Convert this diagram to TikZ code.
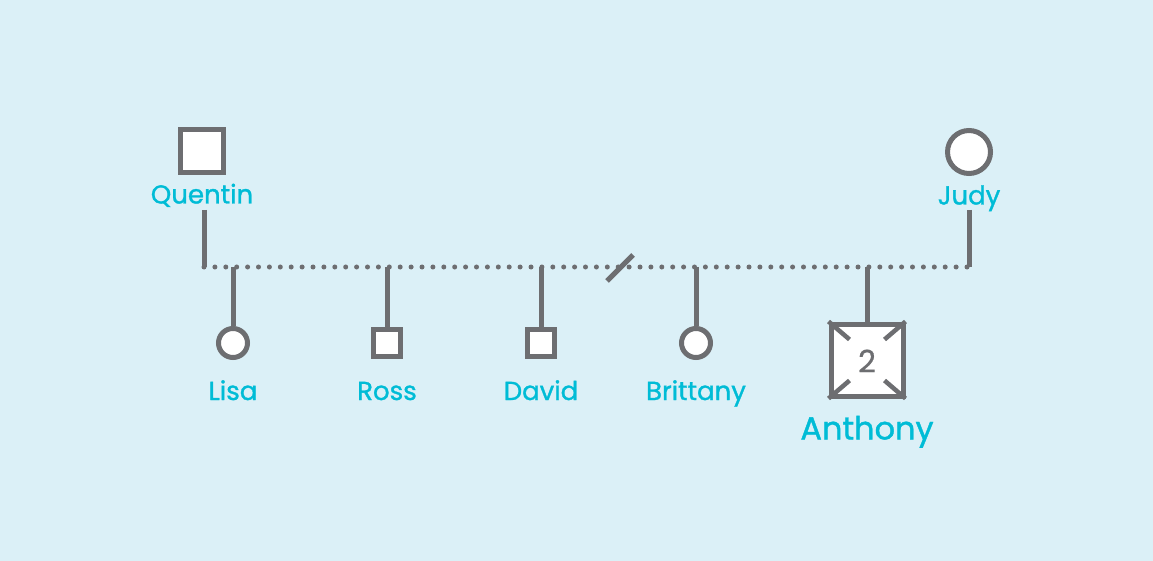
\documentclass[tikz,border=0pt]{standalone}
\usepackage{fontspec}
\setmainfont{Poppins}[FakeBold=0.5]
\newfontfamily\lblfont{Poppins}[FakeBold=1.2]
\definecolor{bg}{RGB}{219,240,247}
\definecolor{gr}{RGB}{109,110,113}
\definecolor{bl}{RGB}{0,188,214}
\begin{document}
\begin{tikzpicture}[x=1pt,y=-1pt,
  line/.style={draw=gr,line width=5pt},
  dotline/.style={draw=gr,line width=5pt,line cap=round,dash pattern=on 0pt off 10.9pt},
  male/.style={draw=gr,fill=white,line width=5pt,minimum size=#1,inner sep=0pt,rectangle},
  female/.style={draw=gr,fill=white,line width=5pt,minimum size=#1,inner sep=0pt,circle},
  lbl/.style={text=bl,font=\lblfont\fontsize{26}{28}\selectfont,inner sep=0pt,anchor=base},
  biglbl/.style={text=bl,font=\lblfont\fontsize{32}{34}\selectfont,inner sep=0pt,anchor=base}]
\fill[bg] (0,0) rectangle (1153,561);
\useasboundingbox (0,0) rectangle (1153,561);
% parents
\node[male=43pt] (q) at (202,151) {};
\node[lbl] (ql) at (202,203.5) {Quentin};
\node[female=43pt] (j) at (969,152) {};
\node[lbl] (jl) at (969,204.5) {Judy};
\coordinate (qt) at (204,210);
\coordinate (qb) at (204,267);
\coordinate (jt) at (969,210);
\coordinate (jb) at (969,267);
\draw[line] (qt) -- (qb);
\draw[line] (jt) -- (jb);
\draw[dotline] (qb) -- (jb);
% slash
\coordinate (s1) at (607,281);
\coordinate (s2) at (633,255);
\draw[line] (s1) -- (s2);
% children
\node[female=29pt] (li) at (233,343) {};
\node[male=27pt] (ro) at (387,343) {};
\node[male=27pt] (da) at (541,343) {};
\node[female=29pt] (br) at (696,343) {};
\node[male=72pt] (an) at (867,360) {};
\node[lbl] (lil) at (233,400) {Lisa};
\node[lbl] (rol) at (387,400) {Ross};
\node[lbl] (dal) at (541,400) {David};
\node[lbl] (brl) at (696,400) {Brittany};
\node[biglbl] (anl) at (867,439.5) {Anthony};
\foreach \n/\x in {li/233,ro/387,da/541,br/696,an/867}{
  \coordinate (\n t) at (\x,267);
  \draw[line] (\n t) -- (\n.north);
}
% anthony marks
\draw[gr,line width=4.5pt] (an.north west) -- ++(21,18);
\draw[gr,line width=4.5pt] (an.north east) -- ++(-21,18);
\draw[gr,line width=4.5pt] (an.south west) -- ++(21,-18);
\draw[gr,line width=4.5pt] (an.south east) -- ++(-21,-18);
\node[text=gr,font=\fontsize{31}{34}\selectfont,inner sep=0pt] (n2) at ([yshift=-1pt]an.center) {2};
\end{tikzpicture}
\end{document}
